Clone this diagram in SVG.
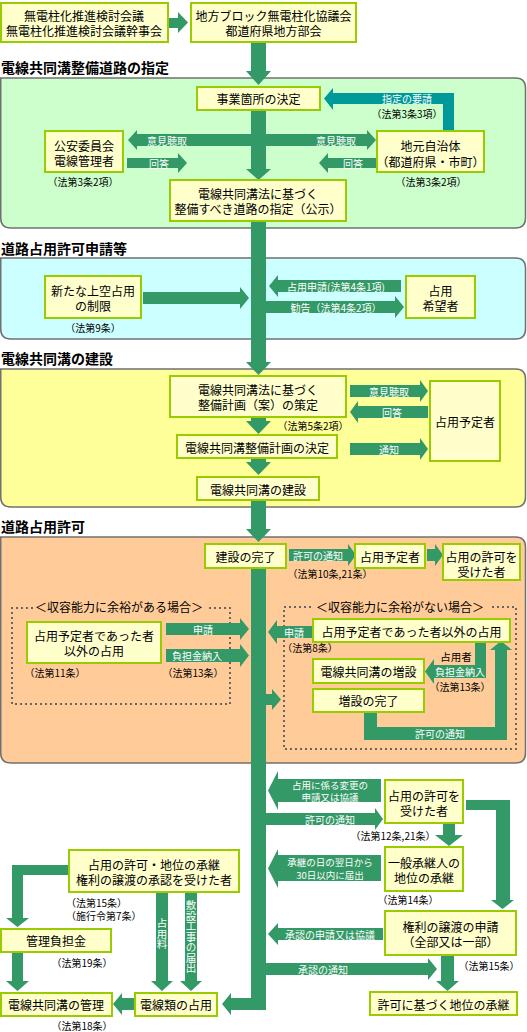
<svg xmlns="http://www.w3.org/2000/svg" width="527" height="1032" viewBox="0 0 527 1032">
<style>
.sec{stroke:#707070;stroke-width:1.5}
.box{fill:#FFFFCC;stroke:#99CC00;stroke-width:2}
.arr{fill:#339966}
.teal{fill:#009999}
.dot{fill:none;stroke:#666;stroke-width:2;stroke-dasharray:2 3}
text{font-family:"Noto Sans CJK JP","Noto Sans CJK SC",sans-serif;font-size:12px;fill:#000;text-anchor:middle;dominant-baseline:central}
.w{font-size:10px;fill:#fff}
.w2{font-size:9.5px;fill:#fff}
.law{font-size:10px}
.h{font-size:14px;font-weight:700;text-anchor:start}
.v{writing-mode:vertical-rl;font-size:10.5px;fill:#fff}
</style>
<rect width="527" height="1032" fill="#fff"/>
<g id="sections">
<path class="sec" fill="#CCFFCC" d="M0.75 78 H515.5 Q525.5 78 525.5 88 V218 Q525.5 228 515.5 228 H10.75 Q0.75 228 0.75 218 Z"/>
<path class="sec" fill="#CCFFFF" d="M0.75 258 H515.5 Q525.5 258 525.5 268 V329 Q525.5 339 515.5 339 H10.75 Q0.75 339 0.75 329 Z"/>
<path class="sec" fill="#FFFF99" d="M0.75 369 H515.5 Q525.5 369 525.5 379 V497 Q525.5 507 515.5 507 H10.75 Q0.75 507 0.75 497 Z"/>
<path class="sec" fill="#FFCC99" d="M0.75 537 H515.5 Q525.5 537 525.5 547 V753 Q525.5 763 515.5 763 H10.75 Q0.75 763 0.75 753 Z"/>
<text class="h" x="1" y="67">電線共同溝整備道路の指定</text>
<text class="h" x="1" y="248">道路占用許可申請等</text>
<text class="h" x="1" y="358">電線共同溝の建設</text>
<text class="h" x="1" y="526">道路占用許可</text>
<path class="dot" d="M33 608 H12 V704 H230 V608 H208"/>
<text x="119" y="606">＜収容能力に余裕がある場合＞</text>
<path class="dot" d="M311 607 H284 V749 H516 V607 H492"/>
<text x="400" y="606">＜収容能力に余裕がない場合＞</text>
</g>
<g id="connectors">
<path class="arr" d="M169 18 H178 V12 L188 22.5 L178 33 V28 H169 Z"/>
<path class="arr" d="M251 42 H266 V71 H271 L258.5 85 L246 71 H251 Z"/>
<path class="teal" d="M454 131 V93 H333 V88 L324 98.5 L333 110 V104 H443 V131 Z"/>
<path class="arr" d="M251 110 H266 V169 H271 L258.5 180 L246 169 H251 Z"/>
<path class="arr" d="M251 134 V146 H137 V150 L128 140 L137 130 V134 Z"/>
<path class="arr" d="M266 134 H367 V130 L376 140 L367 150 V146 H266 Z"/>
<path class="arr" d="M127 158 H178 V153 L187 163 L178 173 V168 H127 Z"/>
<path class="arr" d="M376 158 V168 H328 V173 L319 163 L328 153 V158 Z"/>
<path class="arr" d="M251 221 H266 V362 H271 L258.5 375 L246 362 H251 Z"/>
<path class="arr" d="M143 292 H240 V287 L249 298 L240 309 V304 H143 Z"/>
<path class="arr" d="M401 280 V292 H278 V297 L269 286 L278 275 V280 Z"/>
<path class="arr" d="M266 301 H395 V296 L404 307 L395 318 V313 H266 Z"/>
<path class="arr" d="M251 417 H266 V421 H271 L258.5 434 L246 421 H251 Z"/>
<path class="arr" d="M350 385 H420 V380 L428 391 L420 402 V397 H350 Z"/>
<path class="arr" d="M428 406 V418 H358 V423 L350 412 L358 401 V406 Z"/>
<path class="arr" d="M350 443 H420 V438 L428 449 L420 460 V455 H350 Z"/>
<path class="arr" d="M251 458 H266 V462 H271 L258.5 475 L246 462 H251 Z"/>
<path class="arr" d="M251 500 H266 V529 H271 L258.5 542 L246 529 H251 Z"/>
<path class="arr" d="M251 568 H266 V1010 H231 V1015 L222 1004 L231 993 V998 H251 Z"/>
<path class="arr" d="M289 549 H348 V544 L356 555 L348 566 V561 H289 Z"/>
<path class="arr" d="M427 549 H435 V544 L443 555 L435 566 V561 H427 Z"/>
<path class="arr" d="M166 623 H240 V618 L249 629 L240 640 V635 H166 Z"/>
<path class="arr" d="M166 649 H240 V644 L249 655.5 L240 667 V662 H166 Z"/>
<path class="arr" d="M313 626 V638 H277 V644 L268 632 L277 620 V626 Z"/>
<path class="arr" d="M475 642 H486 V678 H434 V684 L425 671.5 L434 659 V665 H475 Z"/>
<path class="arr" d="M364 712 H377 V727 H495 V650 H490 L501 641 L512 650 H507 V740 H364 Z"/>
<path class="arr" d="M266 694 H272 V689 L281 699.5 L272 710 V705 H266 Z"/>
<path class="arr" d="M381 779 V802 H278 V810 L268 790.5 L278 771 V779 Z"/>
<path class="arr" d="M266 813 H375 V808 L383 819 L375 830 V825 H266 Z"/>
<path class="arr" d="M443 823 H455 V835 H463 L449 846 L435 835 H443 Z"/>
<path class="arr" d="M466 800 H510 V900 H514 L502.5 909 L491 900 H496 V810 H466 Z"/>
<path class="arr" d="M381 855 V881 H278 V888 L268 868.5 L278 849 V855 Z"/>
<path class="arr" d="M383 928 V940 H278 V945 L268 934 L278 923 V928 Z"/>
<path class="arr" d="M266 963 H428 V958 L437 969 L428 980 V975 H266 Z"/>
<path class="arr" d="M441 955 H454 V981 H459 L447.5 991 L436 981 H441 Z"/>
<path class="arr" d="M69 865 V875 H23 V918 H29 L17.5 927 L6 918 H12 V865 Z"/>
<path class="arr" d="M12 952 H23 V981 H29 L17.5 991 L6 981 H12 Z"/>
<path class="arr" d="M135 998 V1010 H122 V1015 L113 1004 L122 993 V998 Z"/>
<path class="arr" d="M156 892 H168 V981 H173 L162 991 L151 981 H156 Z"/>
<path class="arr" d="M185 892 H197 V981 H202 L191 991 L180 981 H185 Z"/>
<text class="w" x="407" y="98.5">指定の要請</text>
<text class="law" x="407" y="113">（法第3条3項）</text>
<text class="w" x="167" y="140">意見聴取</text>
<text class="w" x="336" y="140">意見聴取</text>
<text class="w" x="159" y="163">回答</text>
<text class="w" x="353" y="163">回答</text>
<text class="w" x="336" y="286">占用申請(法第4条1項)</text>
<text class="w" x="336" y="307">勧告（法第4条2項）</text>
<text class="w" x="389" y="391">意見聴取</text>
<text class="w" x="392" y="412">回答</text>
<text class="w" x="389" y="449">通知</text>
<text class="w" x="318" y="555">許可の通知</text>
<text class="w" x="203" y="629">申請</text>
<text class="w" x="197" y="655.5">負担金納入</text>
<text class="w" x="294" y="632">申請</text>
<text x="456" y="656" style="font-size:10.5px">占用者</text>
<text class="w" x="460" y="671.5">負担金納入</text>
<text class="w" x="440" y="733.5">許可の通知</text>
<text class="w2" x="330" y="784.5">占用に係る変更の</text>
<text class="w2" x="330" y="797">申請又は協議</text>
<text class="w" x="330" y="819">許可の通知</text>
<text class="w2" x="330" y="862">承継の日の翌日から</text>
<text class="w2" x="330" y="875">30日以内に届出</text>
<text class="w" x="330" y="934">承認の申請又は協議</text>
<text class="w" x="323" y="969">承認の通知</text>
<text class="v" x="162" y="934">占用料</text>
<text class="v" x="191" y="937">敷設工事の届出</text>
</g>
<g id="n1"><rect class="box" x="1" y="3" width="167" height="39"/><text x="84" y="15">無電柱化推進検討会議</text><text x="84" y="30">無電柱化推進検討会議幹事会</text></g>
<g id="n2"><rect class="box" x="191" y="3" width="165" height="39"/><text x="273.5" y="15">地方ブロック無電柱化協議会</text><text x="273.5" y="30">都道府県地方部会</text></g>
<g id="n3"><rect class="box" x="197" y="87" width="123" height="23"/><text x="258.5" y="98.5">事業箇所の決定</text></g>
<g id="n4"><rect class="box" x="45" y="131" width="78" height="41"/><text x="84" y="145">公安委員会</text><text x="84" y="160">電線管理者</text><text class="law" x="83" y="181">（法第3条2項）</text></g>
<g id="n5"><rect class="box" x="377" y="131" width="107" height="41"/><text x="430.5" y="145">地元自治体</text><text x="430.5" y="161">（都道府県・市町）</text><text class="law" x="431" y="181">（法第3条2項）</text></g>
<g id="n6"><rect class="box" x="170" y="180" width="176" height="41"/><text x="258" y="193">電線共同溝法に基づく</text><text x="258" y="208">整備すべき道路の指定（公示）</text></g>
<g id="n7"><rect class="box" x="45" y="276" width="96" height="42"/><text x="93" y="290">新たな上空占用</text><text x="93" y="305">の制限</text><text class="law" x="93" y="327">（法第9条）</text></g>
<g id="n8"><rect class="box" x="406" y="276" width="69" height="42"/><text x="440.5" y="290">占用</text><text x="440.5" y="305">希望者</text></g>
<g id="n9"><rect class="box" x="170" y="376" width="176" height="41"/><text x="258" y="389">電線共同溝法に基づく</text><text x="258" y="404">整備計画（案）の策定</text><text class="law" x="313" y="425">（法第5条2項）</text></g>
<g id="n10"><rect class="box" x="177" y="435" width="160" height="23"/><text x="257" y="447">電線共同溝整備計画の決定</text></g>
<g id="n11"><rect class="box" x="197" y="477" width="122" height="23"/><text x="258" y="489">電線共同溝の建設</text></g>
<g id="n12"><rect class="box" x="430" y="381" width="70" height="80"/><text x="465" y="421">占用予定者</text></g>
<g id="n13"><rect class="box" x="205" y="544" width="81" height="24"/><text x="245.5" y="556">建設の完了</text><text class="law" x="330" y="573">（法第10条,21条）</text></g>
<g id="n14"><rect class="box" x="355" y="544" width="70" height="24"/><text x="390" y="556">占用予定者</text></g>
<g id="n15"><rect class="box" x="443" y="544" width="77" height="36"/><text x="481.5" y="556">占用の許可を</text><text x="481.5" y="571">受けた者</text></g>
<g id="n16"><rect class="box" x="27" y="622" width="134" height="41"/><text x="94" y="635">占用予定者であった者</text><text x="94" y="650">以外の占用</text><text class="law" x="55" y="672">（法第11条）</text><text class="law" x="193" y="672">（法第13条）</text></g>
<g id="n17"><rect class="box" x="313" y="619" width="197" height="23"/><text x="411.5" y="631">占用予定者であった者以外の占用</text><text class="law" x="310" y="647">（法第8条）</text><text class="law" x="460" y="686">（法第13条）</text></g>
<g id="n18"><rect class="box" x="313" y="659" width="111" height="24"/><text x="368.5" y="671">電線共同溝の増設</text></g>
<g id="n19"><rect class="box" x="313" y="689" width="111" height="23"/><text x="368.5" y="700">増設の完了</text></g>
<g id="n20"><rect class="box" x="385" y="780" width="78" height="43"/><text x="424" y="795">占用の許可を</text><text x="424" y="810">受けた者</text><text class="law" x="393" y="835">（法第12条,21条）</text></g>
<g id="n21"><rect class="box" x="385" y="847" width="78" height="44"/><text x="424" y="862">一般承継人の</text><text x="424" y="877">地位の承継</text><text class="law" x="408" y="899">（法第14条）</text></g>
<g id="n22"><rect class="box" x="385" y="911" width="131" height="44"/><text x="450.5" y="926">権利の譲渡の申請</text><text x="450.5" y="941">（全部又は一部）</text><text class="law" x="489" y="965">（法第15条）</text></g>
<g id="n23"><rect class="box" x="370" y="992" width="147" height="23"/><text x="443.5" y="1004">許可に基づく地位の承継</text></g>
<g id="n24"><rect class="box" x="69" y="850" width="170" height="42"/><text x="154" y="864">占用の許可・地位の承継</text><text x="154" y="879">権利の譲渡の承認を受けた者</text><text class="law" x="66" y="902" style="text-anchor:start">（法第15条）</text><text class="law" x="66" y="915" style="text-anchor:start">（施行令第7条）</text></g>
<g id="n25"><rect class="box" x="1" y="929" width="110" height="23"/><text x="56" y="940">管理負担金</text><text class="law" x="82" y="962">（法第19条）</text></g>
<g id="n26"><rect class="box" x="1" y="993" width="111" height="23"/><text x="56" y="1004">電線共同溝の管理</text><text class="law" x="82" y="1025">（法第18条）</text></g>
<g id="n27"><rect class="box" x="135" y="993" width="82" height="23"/><text x="176" y="1004">電線類の占用</text></g>
</svg>
